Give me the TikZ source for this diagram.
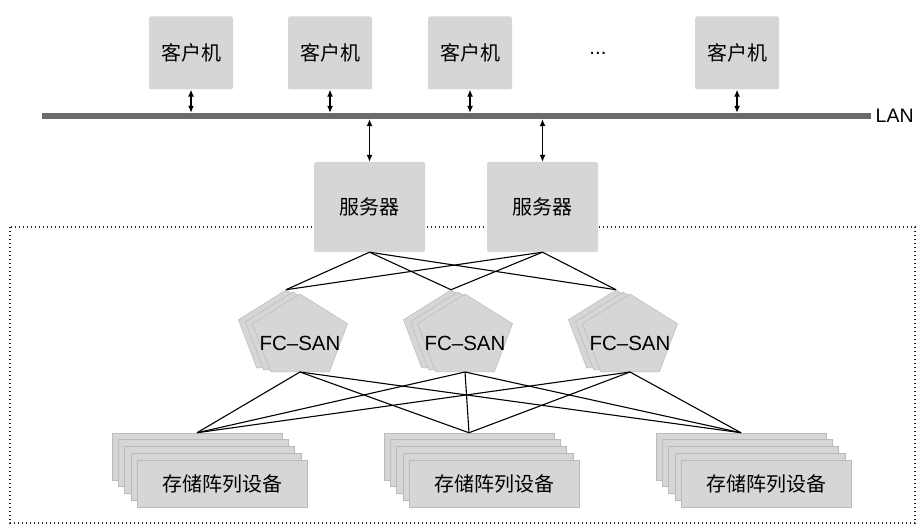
\documentclass[tikz,border=0pt]{standalone}
\usepackage{fontspec}
\setmainfont{Liberation Sans}
\newfontfamily\cjk{Noto Sans CJK SC}
\usetikzlibrary{arrows.meta, positioning, shapes.geometric}

\begin{document}
\begin{tikzpicture}[
  x=1pt, y=-1pt,
  font=\fontsize{20.5}{24}\selectfont,
  box/.style={fill=black!16, rounded corners=2pt, minimum width=84pt,
    minimum height=73pt, align=center, font=\cjk\fontsize{20}{24}\selectfont},
  server/.style={box, minimum width=111pt, minimum height=90pt},
  san/.style={regular polygon, regular polygon sides=5, minimum size=100pt,
    yscale=0.86, transform shape,
    inner sep=0pt, fill=black!16, draw=black!27, line width=0.5pt},
  disk/.style={fill=black!16, draw=black!27, line width=0.5pt,
    minimum width=170pt, minimum height=47pt, font=\cjk\fontsize{20}{24}\selectfont},
  arr/.style={{Latex[length=7pt,width=6pt]}-{Latex[length=7pt,width=6pt]}, line width=1.2pt},
  link/.style={line width=1.1pt},
  frame/.style={line width=1.6pt, dash pattern=on 1.4pt off 2.6pt, black!85}
]
  \useasboundingbox (0,0) rectangle (919,526);

  % storage area
  \draw[frame] (10,227) rectangle (915,523);

  % clients and LAN
  \foreach \n/\x in {1/191, 2/330, 3/470, 4/737}
    \node[box] (client\n) at (\x,53) {客户机};
  \node (dots) at (598,53) {...};
  \node[fill=black!58, minimum width=829pt, minimum height=6pt, inner sep=0pt]
    (lan) at (456.5,116) {};
  \node[right=1pt of lan, font=\fontsize{19.5}{24}\selectfont] (lanlbl) {LAN};
  \foreach \n in {1,...,4}
    \draw[arr] (client\n.south) -- (client\n.south |- lan.north);

  % servers
  \node[server] (srv1) at (369.5,207) {服务器};
  \node[server] (srv2) at (542.5,207) {服务器};
  \draw[arr] (lan.south -| srv1.north) -- (srv1.north);
  \draw[arr] (lan.south -| srv2.north) -- (srv2.north);

  % FC-SAN switches
  \foreach \n/\x in {1/300, 2/465, 3/630} {
    \foreach \k in {2,1}
      \node[san] (san\n-\k) at (\x-7*\k, 337-2*\k) {};
    \node[san] (san\n) at (\x,337) {};
    \node (sanlbl\n) at ([yshift=-6pt]san\n.center) {FC–SAN};
  }

  % storage arrays
  \foreach \n/\x in {1/222, 2/494, 3/766} {
    \foreach \k in {4,3,2,1}
      \node[disk] (store\n-\k) at (\x-6.25*\k, 483.5-6.75*\k) {};
    \node[disk] (store\n) at (\x,483.5) {存储阵列设备};
  }

  \foreach \s in {srv1, srv2}
    \foreach \n in {1,2,3}
      \draw[link] (\s.south) -- (san\n-2.corner 1);
  \foreach \n in {1,2,3}
    \foreach \m in {1,2,3}
      \draw[link] (san\n.south) -- (store\m-4.north);
\end{tikzpicture}
\end{document}
